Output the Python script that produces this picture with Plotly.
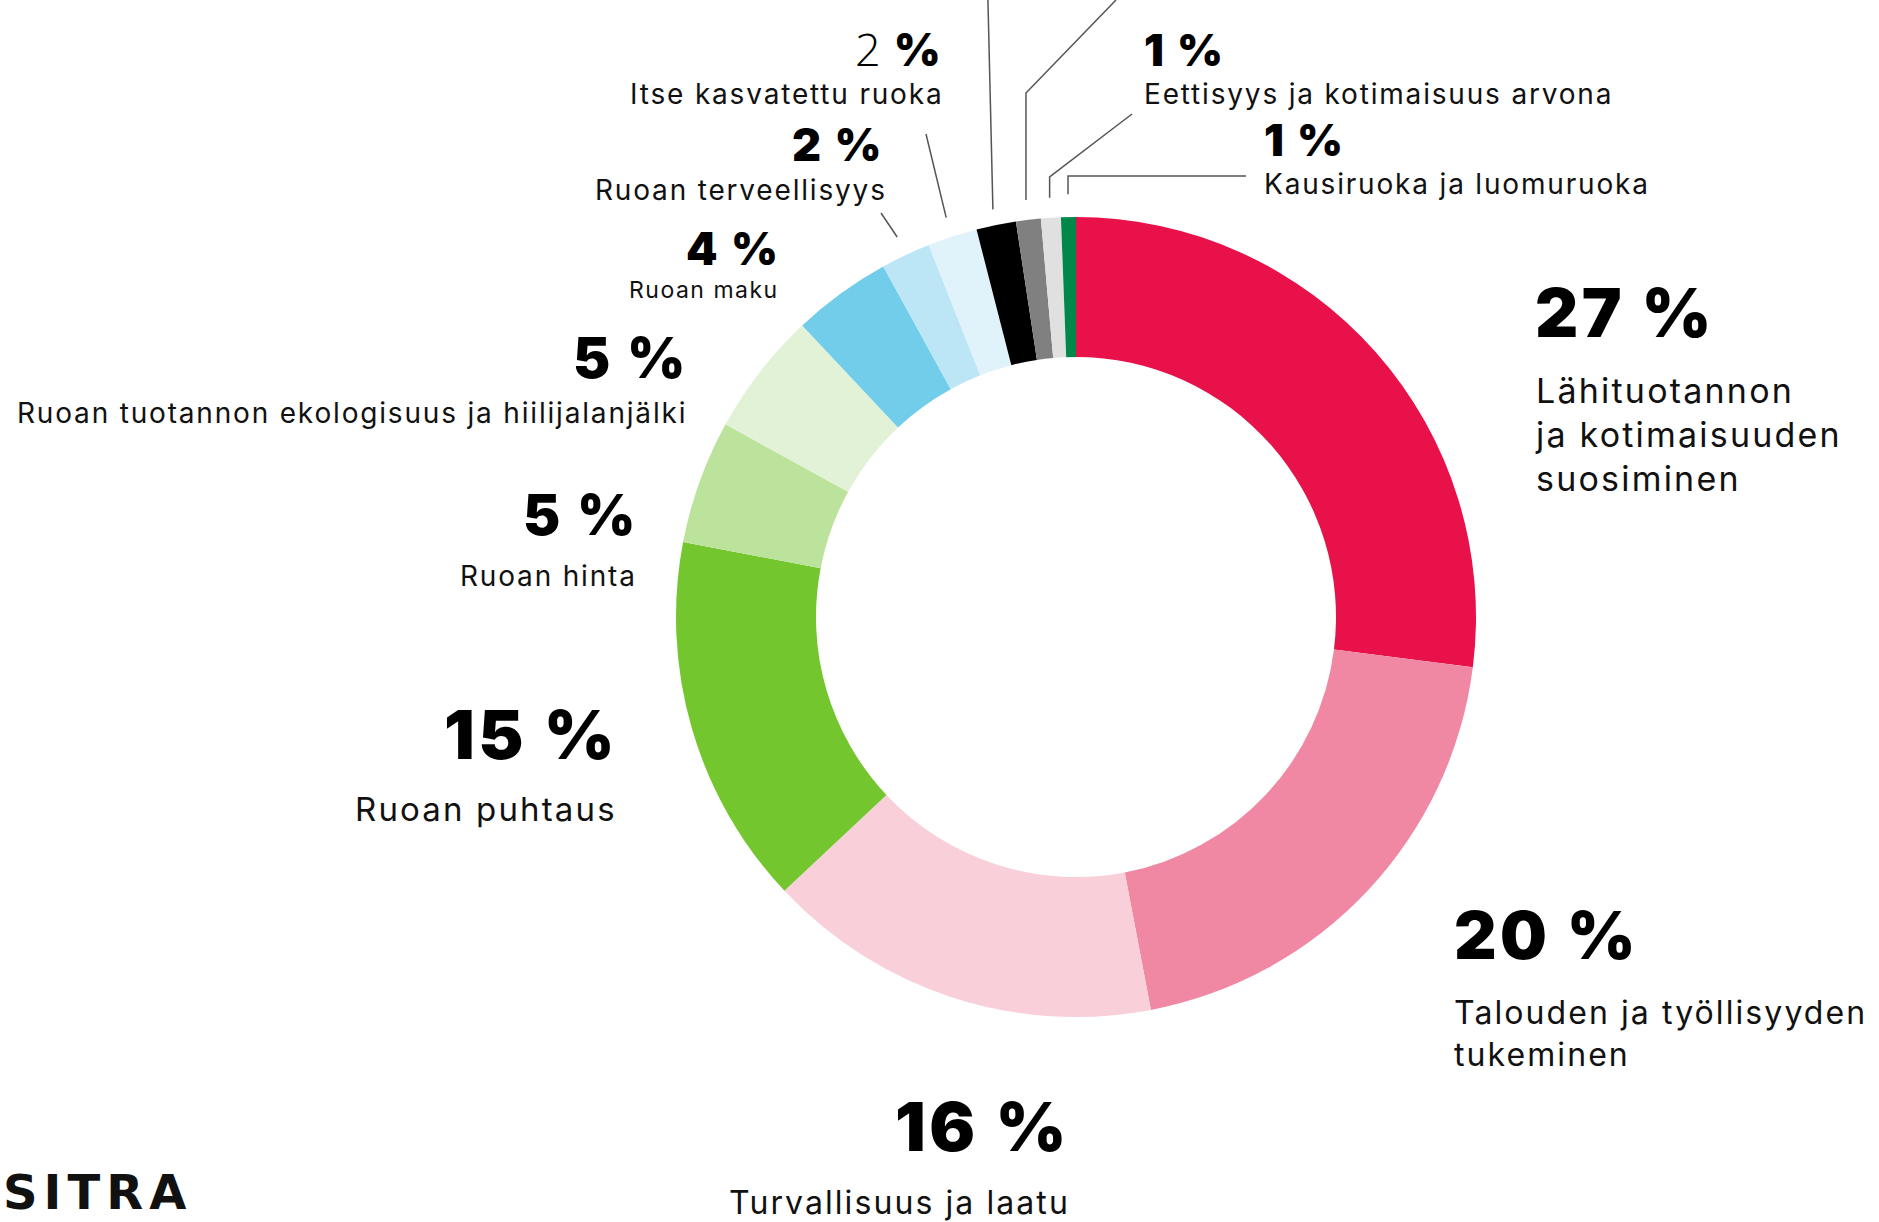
import math
import plotly.graph_objects as go

W, H = 1879, 1222

# ---------------- data ----------------
categories = [
    "Lähituotannon ja kotimaisuuden suosiminen",
    "Talouden ja työllisyyden tukeminen",
    "Turvallisuus ja laatu",
    "Ruoan puhtaus",
    "Ruoan hinta",
    "Ruoan tuotannon ekologisuus ja hiilijalanjälki",
    "Ruoan maku",
    "Ruoan terveellisyys",
    "Itse kasvatettu ruoka",
    "Muu (musta)",
    "Muu (harmaa)",
    "Eettisyys ja kotimaisuus arvona",
    "Kausiruoka ja luomuruoka",
]
values = [27, 20, 16, 15, 5, 5, 4, 2, 2, 1.6, 1.0, 0.8, 0.6]
pct_labels = ["27 %", "20 %", "16 %", "15 %", "5 %", "5 %", "4 %", "2 %", "2 %", None, None, "1 %", "1 %"]
label_texts = [
    "Lähituotannon<br>ja kotimaisuuden<br>suosiminen",
    "Talouden ja työllisyyden<br>tukeminen",
    "Turvallisuus ja laatu",
    "Ruoan puhtaus",
    "Ruoan hinta",
    "Ruoan tuotannon ekologisuus ja hiilijalanjälki",
    "Ruoan maku",
    "Ruoan terveellisyys",
    "Itse kasvatettu ruoka",
    None,
    None,
    "Eettisyys ja kotimaisuus arvona",
    "Kausiruoka ja luomuruoka",
]
colors = ["#E8114A", "#F088A3", "#F9CFDA", "#74C62E", "#BCE39B", "#E2F2D6",
          "#72CDEA", "#BCE6F5", "#E1F3FA", "#000000", "#808080", "#E0E0E0", "#00874A"]

# ---------------- geometry (layout) ----------------
CX, CY, R = 1076, 617, 400
HOLE = 0.65


def P(x, y):
    return x / W, 1 - y / H


total = sum(values)
cum = []
c = 0
for v in values:
    cum.append(c)
    c += v


def slice_point(i, rf):
    th = 2 * math.pi * (cum[i] + values[i] / 2) / total
    return CX + rf * R * math.sin(th), CY - rf * R * math.cos(th)


def spaced(text, px):
    return "<br>".join(f'<span style="letter-spacing:{px:.2f}px">{t}</span>' for t in text.split("<br>"))


fig = go.Figure(go.Pie(
    labels=categories, values=values, hole=HOLE, sort=False,
    direction="clockwise", rotation=0, textinfo="none",
    marker=dict(colors=colors, line=dict(width=0)),
    domain=dict(x=[(CX - R) / W, (CX + R) / W], y=[1 - (CY + R) / H, 1 - (CY - R) / H]),
    showlegend=False,
))

PCT_FONT = "Inter"
TXT_FONT = "Inter"

# label layout: idx -> (pct x, pct y, anchor, pct size, text x, text y, text size)
layout_spec = {
    0: (1533, 313, "left", 67, 1533, 434, 34),
    1: (1452, 935, "left", 66, 1452, 1033, 32),
    2: (893, 1126, "left", 68, 727, 1202, 32),
    3: (617, 734, "right", 68, 617, 809, 33),
    4: (637, 515, "right", 56, 637, 576, 28),
    5: (687, 358, "right", 56, 687, 413, 28),
    6: (780, 248, "right", 45, 780, 290, 23),
    7: (884, 145, "right", 45, 887, 190, 28),
    8: (943, 48, "right", 45, 943, 94, 28),
    11: (1142, 50, "left", 44, 1142, 94, 28),
    12: (1262, 140, "left", 44, 1262, 184, 28),
}

annotations = []
for i, spec in layout_spec.items():
    px_, py_, anc, ps, tx, ty, ts = spec
    pct_sp = ps * 0.05
    txt_sp = ts * 0.065
    if anc == "right":
        px_ += pct_sp
        tx += txt_sp
    if i == 8:
        pct = ('<span style="font-family:Open Sans;font-weight:300;letter-spacing:2px">2</span>'
               '<span style="letter-spacing:2px">\u00a0%</span>')
    else:
        pct = spaced(pct_labels[i].replace(" ", "\u00a0"), pct_sp)
    x, y = P(px_, py_)
    annotations.append(dict(
        x=x, y=y, xref="paper", yref="paper", xanchor=anc, yanchor="middle",
        text=pct, showarrow=False,
        font=dict(family=PCT_FONT, size=ps, color="#000", weight=900),
    ))
    x, y = P(tx, ty)
    annotations.append(dict(
        x=x, y=y, xref="paper", yref="paper", xanchor=anc, yanchor="middle",
        text=spaced(label_texts[i], txt_sp), showarrow=False, align=anc,
        font=dict(family=TXT_FONT, size=ts, color="#111"),
    ))

# logo
x, y = P(2, 1221)
annotations.append(dict(
    x=x, y=y, xref="paper", yref="paper", xanchor="left", yanchor="bottom",
    text='<span style="letter-spacing:6px">SITRA</span>', showarrow=False, borderpad=0,
    font=dict(family="DejaVu Sans", size=48, color="#111", weight=600),
))

# leader lines: outer points are layout positions, inner points come from slice angles
shapes = []


def add_path(pts):
    d = ""
    for k, (a, b) in enumerate(pts):
        xx, yy = P(a, b)
        d += ("M" if k == 0 else "L") + f"{xx:.5f},{yy:.5f} "
    shapes.append(dict(type="path", path=d, xref="paper", yref="paper",
                       line=dict(color="#555", width=1.5)))


# Kausiruoka (green)
ex, ey = slice_point(12, 1.057)
add_path([(1246, 176), (ex, 176), (ex, ey)])
# Eettisyys (light gray)
ex, ey = slice_point(11, 1.05)
add_path([(1132, 114), (ex, 177), (ex, ey)])
# gray (label cut off)
ex, ey = slice_point(10, 1.05)
add_path([(ex + 90, 0), (ex, 93), (ex, ey)])
# black (label cut off)
ex, ey = slice_point(9, 1.04)
add_path([(ex - 5, 0), (ex, ey)])
# Itse kasvatettu ruoka
ex, ey = slice_point(8, 1.05)
add_path([(926, 134), (ex, ey)])
# Ruoan terveellisyys
ex, ey = slice_point(7, 1.05)
add_path([(881, 213), (ex, ey)])

fig.update_layout(
    width=W, height=H,
    margin=dict(l=0, r=0, t=0, b=0),
    paper_bgcolor="white", plot_bgcolor="white",
    annotations=annotations, shapes=shapes,
)

fig.write_html("out.html", config={"displayModeBar": False},
               post_script="document.body.style.margin='0px';document.body.style.overflow='hidden';")
